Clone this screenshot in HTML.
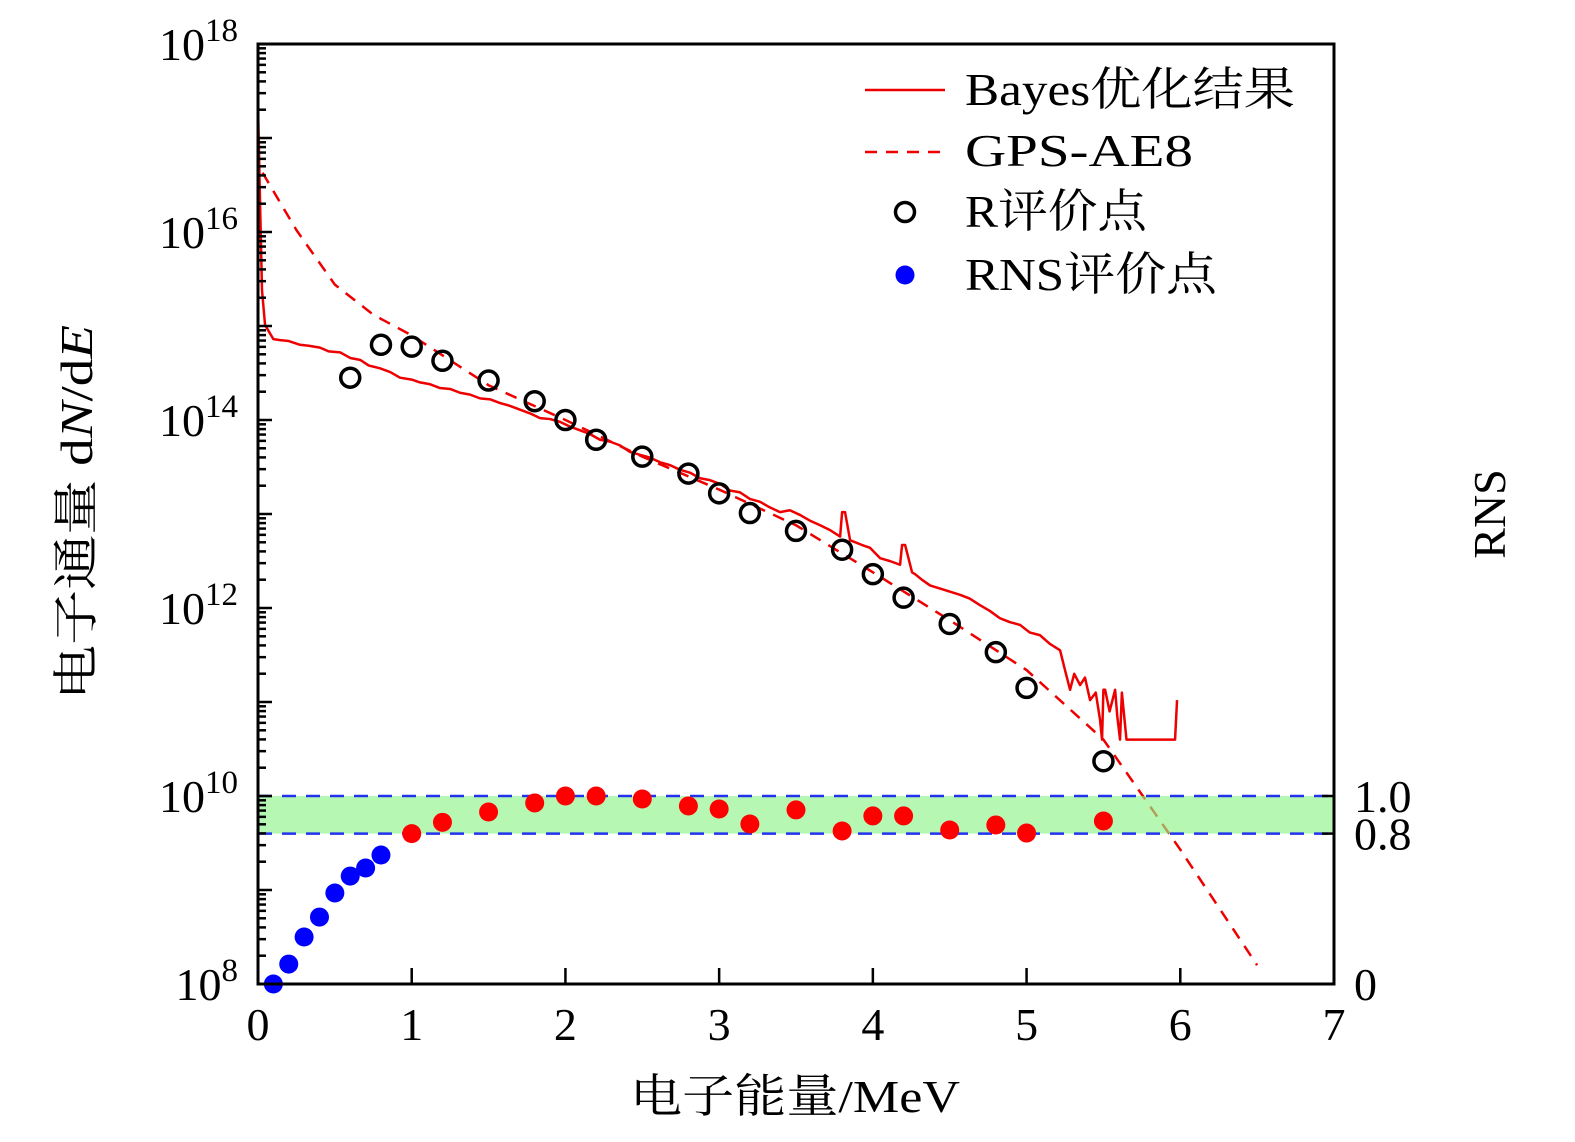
<!DOCTYPE html>
<html><head><meta charset="utf-8">
<style>
html,body{margin:0;padding:0;background:#fff;overflow:hidden;width:1575px;height:1142px;}
svg{display:block;}
svg text{font-family:"Liberation Serif","Noto Serif CJK SC",serif;fill:#000;}
</style></head>
<body>
<svg width="1575" height="1142" viewBox="0 0 1575 1142" xmlns="http://www.w3.org/2000/svg">
<g id="plot"></g>
</svg>
<script>
const rX=[0.6,0.8,1.0,1.2,1.5,1.8,2.0,2.2,2.5,2.8,3.0,3.2,3.5,3.8,4.0,4.2,4.5,4.8,5.0,5.5];
const rLog=[14.45,14.80,14.78,14.63,14.42,14.20,14.00,13.79,13.61,13.43,13.22,13.01,12.82,12.62,12.36,12.11,11.83,11.53,11.15,10.37];
const rnsX=[0.1,0.2,0.3,0.4,0.5,0.6,0.7,0.8,1.0,1.2,1.5,1.8,2.0,2.2,2.5,2.8,3.0,3.2,3.5,3.8,4.0,4.2,4.5,4.8,5.0,5.5];
const rnsVal=[0.0,0.106,0.25,0.356,0.484,0.574,0.617,0.686,0.80,0.86,0.915,0.963,1.0,1.0,0.984,0.947,0.931,0.851,0.926,0.814,0.894,0.894,0.819,0.846,0.803,0.867];
const gpsX=[0.03,0.25,0.5,0.75,1.0,1.5,2.0,2.5,3.0,3.5,4.0,4.5,5.0,5.5,6.0,6.5];
const gpsLog=[16.63,16.02,15.44,15.12,14.90,14.37,14.0,13.61,13.26,12.88,12.38,11.87,11.34,10.6,9.43,8.2];
const bayesX=[0,0.013,0.026,0.046,0.1,0.143,0.2,0.273,0.33,0.403,0.46,0.534,0.6,0.664,0.72,0.794,0.86,0.924,1.0,1.054,1.12,1.184,1.25,1.314,1.38,1.444,1.51,1.575,1.64,1.705,1.77,1.835,1.9,1.965,2.03,2.095,2.16,2.225,2.29,2.355,2.42,2.485,2.55,2.616,2.68,2.746,2.81,2.876,2.94,3.006,3.07,3.136,3.2,3.266,3.33,3.396,3.46,3.526,3.59,3.657,3.72,3.787,3.80,3.819,3.852,3.884,3.93,3.982,4.047,4.11,4.177,4.19,4.21,4.255,4.275,4.32,4.372,4.45,4.567,4.63,4.697,4.76,4.828,4.89,4.958,5.02,5.088,5.15,5.218,5.25,5.283,5.31,5.348,5.38,5.413,5.45,5.478,5.491,5.50,5.511,5.54,5.576,5.59,5.608,5.62,5.65,5.673,5.934,5.966,5.979];
const bayesLog=[17.35,16.34,15.38,15.01,14.86,14.85,14.84,14.80,14.79,14.77,14.73,14.72,14.66,14.64,14.58,14.55,14.51,14.45,14.43,14.40,14.38,14.34,14.33,14.29,14.27,14.23,14.22,14.18,14.15,14.11,14.07,14.02,14.01,13.98,13.93,13.89,13.85,13.79,13.77,13.73,13.66,13.63,13.60,13.55,13.52,13.47,13.44,13.38,13.36,13.32,13.25,13.23,13.16,13.13,13.07,13.02,13.04,12.99,12.93,12.88,12.83,12.76,13.02,13.02,12.72,12.70,12.67,12.64,12.53,12.50,12.46,12.67,12.67,12.38,12.36,12.30,12.24,12.20,12.14,12.10,12.03,11.97,11.89,11.85,11.82,11.74,11.71,11.62,11.55,11.34,11.13,11.30,11.18,11.26,11.02,11.10,10.81,10.60,11.13,11.13,10.90,11.13,10.85,10.60,11.10,10.60,10.60,10.60,10.60,11.02,11.29];
const xTicks=[0,1,2,3,4,5,6,7];
const yExp=[8,10,12,14,16,18];
const rnsTicks=[0,0.8,1.0];
const rnsTickLabels=["0","0.8","1.0"];

const L=258,R=1334,T=44,B=984;
const sx=v=>L+v*(R-L)/7;
const sy=lg=>B-(lg-8)*(B-T)/10;
const sr=v=>B-v*188;
const NS="http://www.w3.org/2000/svg";
const g=document.getElementById('plot');
function mk(tag,attrs,parent){const e=document.createElementNS(NS,tag);for(const k in attrs)e.setAttribute(k,attrs[k]);(parent||g).appendChild(e);return e;}

let d=gpsX.map((x,i)=>(i?'L':'M')+sx(x)+','+sy(gpsLog[i])).join(' ');
let p=mk('path',{d:d,fill:'none',stroke:'#e00','stroke-width':2.5,'stroke-dasharray':'12,9'});


d=bayesX.map((x,i)=>(i?'L':'M')+sx(x)+','+sy(bayesLog[i])).join(' ');
p=mk('path',{d:d,fill:'none',stroke:'#e00','stroke-width':2.5,'stroke-linejoin':'round'});



let band=mk('rect',{x:L,y:sr(1.0),width:R-L,height:sr(0.8)-sr(1.0),fill:'#8ff58a','fill-opacity':0.65});


[1.0,0.8].forEach(v=>{const l=mk('line',{x1:L,x2:R,y1:sr(v),y2:sr(v),stroke:'#2233ee','stroke-width':2.5,'stroke-dasharray':'14,10'});

});

rX.forEach((x,i)=>{const c=mk('circle',{cx:sx(x),cy:sy(rLog[i]),r:9.5,fill:'none',stroke:'#000','stroke-width':3.5});

});
rnsX.forEach((x,i)=>{const c=mk('circle',{cx:sx(x),cy:sr(rnsVal[i]),r:9.5,fill:rnsVal[i]>=0.8?'#f00':'#00f'});

});

let fr=mk('rect',{x:L,y:T,width:R-L,height:B-T,fill:'none',stroke:'#000','stroke-width':3});



xTicks.forEach(v=>{mk('line',{x1:sx(v),x2:sx(v),y1:B,y2:B-16,stroke:'#000','stroke-width':2.5});
const t=mk('text',{x:sx(v),y:B+56,'font-size':46,'text-anchor':'middle'});t.textContent=v;

});
for(let e=8;e<18;e++){for(let m=1;m<10;m++){const y=sy(e+Math.log10(m));mk('line',{x1:L,x2:L+(m==1?14:8),y1:y,y2:y,stroke:'#000','stroke-width':2.5});}}
yExp.forEach(e=>{const t=mk('text',{x:238,y:sy(e)+16,'font-size':46,'text-anchor':'end'});t.textContent='10';
const s=mk('tspan',{'font-size':33,dy:-19},t);s.textContent=e;

});
rnsTicks.forEach((v,i)=>{mk('line',{x1:R,x2:R-12,y1:sr(v),y2:sr(v),stroke:'#000','stroke-width':2.5});
const t=mk('text',{x:1354,y:sr(v)+16,'font-size':46});t.textContent=rnsTickLabels[i];

});

let t=mk('text',{x:630,y:1112,'font-size':46,textLength:330,lengthAdjust:'spacingAndGlyphs'});t.textContent='电子能量/MeV';

t=mk('text',{x:0,y:0,'font-size':46,textLength:375,lengthAdjust:'spacingAndGlyphs',transform:'translate(92,700) rotate(-90)'});
t.innerHTML='电子通量 d<tspan font-style="italic">N</tspan>/d<tspan font-style="italic">E</tspan>';

t=mk('text',{x:0,y:0,'font-size':46,'text-anchor':'middle',transform:'translate(1505,514) rotate(-90)'});t.textContent='RNS';


const lg=mk('g',{});

mk('line',{x1:865,x2:945,y1:90,y2:90,stroke:'#e00','stroke-width':2.5},lg);
mk('line',{x1:865,x2:945,y1:152,y2:152,stroke:'#e00','stroke-width':2.5,'stroke-dasharray':'12,9'},lg);
mk('circle',{cx:905,cy:212,r:9.5,fill:'none',stroke:'#000','stroke-width':3.5},lg);
mk('circle',{cx:905,cy:275,r:9.5,fill:'#00f'},lg);
[['Bayes优化结果',105,330],['GPS-AE8',166,228],['R评价点',227,182],['RNS评价点',290,252]].forEach(([s,y,w])=>{const e=mk('text',{x:965,y:y,'font-size':46,textLength:w,lengthAdjust:'spacingAndGlyphs'},lg);e.textContent=s;

});
</script>
</body></html>
